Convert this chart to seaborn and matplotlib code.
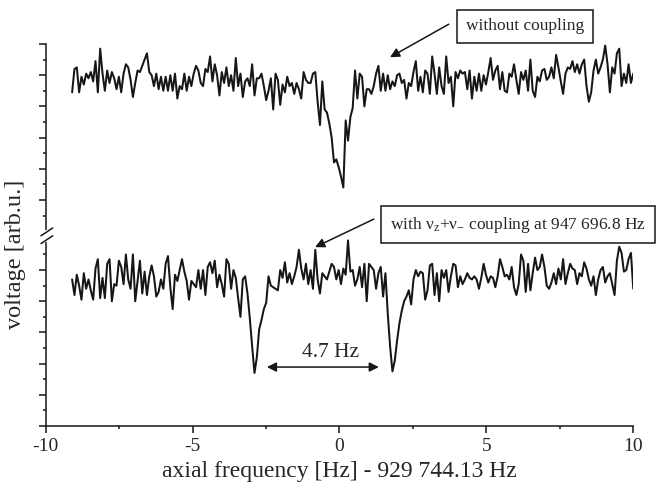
import numpy as np
import pandas as pd
import seaborn as sns
import matplotlib.pyplot as plt

# detector signal, same frequency sweep for both traces
f_start, f_stop = -9.1, 10.0

volt_uncoupled = [
    21.4, 22.9, 23.0, 21.4, 22.4, 21.9, 22.6, 22.3, 22.7, 22.1,
    23.4, 21.4, 24.2, 22.6, 21.5, 22.8, 22.0, 22.7, 22.3, 21.6,
    22.4, 21.4, 22.6, 23.2, 23.0, 22.2, 21.1, 22.0, 22.8, 22.7,
    23.1, 23.5, 23.9, 22.7, 22.5, 21.8, 22.6, 21.6, 22.4, 21.5,
    22.4, 21.5, 22.5, 21.5, 22.6, 21.0, 21.8, 21.6, 22.6, 21.5,
    22.4, 21.8, 22.6, 23.1, 22.8, 22.0, 21.8, 22.9, 22.7, 23.7,
    22.1, 23.2, 22.5, 21.2, 22.7, 22.0, 23.0, 21.8, 22.5, 21.5,
    23.6, 21.8, 22.6, 21.1, 22.1, 22.3, 21.8, 23.2, 21.2, 22.3,
    22.3, 22.6, 21.8, 20.9, 21.5, 22.3, 20.3, 22.6, 22.2, 20.6,
    21.9, 21.4, 22.4, 21.8, 22.0, 21.3, 22.0, 21.6, 21.0, 22.7,
    22.2, 22.0, 22.0, 22.6, 22.7, 20.8, 19.3, 22.1, 20.3, 20.1,
    19.4, 18.5, 16.9, 17.1, 16.6, 16.0, 15.3, 19.6, 18.3, 19.8,
    20.4, 22.8, 21.0, 22.6, 22.4, 20.5, 21.6, 21.6, 21.3, 21.8,
    22.6, 23.1, 21.5, 22.6, 21.5, 22.5, 21.6, 22.1, 21.8, 22.5,
    22.6, 22.0, 22.2, 21.0, 22.0, 21.8, 22.7, 23.4, 21.5, 22.4,
    21.4, 22.8, 22.6, 21.3, 23.7, 22.6, 21.3, 23.0, 21.8, 21.3,
    23.7, 22.0, 22.4, 20.5, 22.7, 22.3, 22.8, 22.6, 22.7, 21.6,
    22.8, 21.0, 22.4, 21.5, 22.6, 21.5, 22.5, 21.9, 22.7, 23.6,
    22.2, 22.8, 23.1, 21.6, 22.7, 21.5, 21.4, 22.6, 22.4, 23.2,
    22.2, 21.3, 22.7, 22.2, 22.8, 21.5, 23.5, 21.5, 21.1, 22.4,
    22.1, 22.8, 22.9, 22.2, 22.4, 23.0, 22.3, 23.8, 23.0, 22.1,
    21.3, 22.6, 23.0, 22.9, 23.4, 22.7, 23.2, 22.6, 23.2, 23.5,
    21.8, 20.8, 21.4, 22.8, 23.5, 22.6, 23.0, 23.5, 24.4, 23.2,
    21.4, 23.0, 22.6, 23.9, 24.2, 21.8, 22.6, 22.0, 23.2, 22.0,
    22.6,
]

volt_coupled = [
    9.4, 8.4, 9.7, 9.0, 8.1, 9.8, 8.8, 9.4, 8.7, 8.1,
    10.1, 10.7, 8.2, 9.5, 8.2, 10.4, 10.7, 8.0, 9.1, 9.0,
    10.6, 10.2, 9.1, 11.0, 9.4, 8.8, 11.0, 8.0, 9.3, 10.6,
    8.5, 9.9, 8.4, 9.6, 10.3, 9.6, 8.3, 8.6, 9.4, 8.8,
    10.4, 10.9, 8.9, 7.5, 9.7, 9.3, 10.0, 10.7, 9.9, 9.3,
    8.1, 9.3, 9.1, 8.9, 10.0, 8.8, 10.0, 8.4, 10.2, 10.5,
    9.8, 10.6, 8.9, 9.7, 9.1, 8.3, 10.7, 10.4, 8.8, 10.0,
    9.5, 8.2, 7.0, 9.4, 9.6, 8.5, 6.9, 5.1, 3.4, 4.4,
    6.2, 6.8, 7.5, 7.9, 9.6, 9.0, 8.9, 8.8, 8.7, 10.0,
    9.5, 10.5, 9.2, 9.8, 9.1, 9.6, 10.2, 11.3, 10.1, 9.4,
    10.4, 9.1, 10.0, 8.8, 11.3, 9.4, 8.5, 9.8, 9.6, 9.4,
    9.9, 10.4, 10.2, 9.4, 10.0, 9.1, 10.1, 9.7, 11.9, 9.9,
    10.0, 9.0, 9.4, 10.2, 8.9, 10.4, 8.0, 10.4, 10.2, 10.0,
    8.8, 9.8, 10.2, 8.3, 9.8, 7.2, 5.1, 3.5, 4.2, 5.5,
    6.6, 7.4, 8.0, 8.3, 8.7, 7.8, 9.4, 10.0, 9.6, 9.9,
    9.8, 8.1, 8.7, 10.3, 10.4, 8.4, 9.8, 8.0, 10.0, 9.5,
    10.0, 8.6, 9.6, 10.4, 10.3, 8.9, 9.6, 9.1, 9.4, 9.8,
    9.5, 9.4, 9.6, 9.4, 8.8, 9.5, 10.4, 9.7, 9.2, 9.6,
    9.5, 8.9, 9.6, 10.7, 10.2, 9.6, 9.7, 9.4, 10.2, 8.9,
    8.4, 9.1, 11.0, 10.6, 8.6, 10.4, 8.7, 9.8, 10.8, 10.0,
    10.2, 11.0, 10.2, 9.0, 8.8, 9.2, 9.8, 9.1, 10.1, 9.4,
    10.7, 9.1, 9.8, 10.4, 10.1, 10.0, 9.1, 9.8, 9.6, 10.5,
    10.1, 9.4, 9.0, 9.6, 8.4, 9.4, 10.0, 10.2, 9.2, 9.6,
    9.8, 9.1, 8.4, 10.6, 11.5, 11.1, 9.9, 10.0, 10.7, 11.1,
    8.8,
]

labels = ["without coupling", "with coupling"]

freq = np.linspace(f_start, f_stop, len(volt_uncoupled))
df = pd.concat([
    pd.DataFrame({"freq": freq, "volt": volt_uncoupled, "trace": labels[0]}),
    pd.DataFrame({"freq": freq, "volt": volt_coupled, "trace": labels[1]}),
])

sns.set_theme(style="ticks")
plt.rcParams['font.family'] = ['Liberation Serif', 'DejaVu Serif']
plt.rcParams['mathtext.fontset'] = 'custom'
plt.rcParams['mathtext.rm'] = 'Liberation Serif'
plt.rcParams['mathtext.it'] = 'Liberation Serif:italic'
plt.rcParams['axes.unicode_minus'] = False

fig = plt.figure(figsize=(6.62, 4.91), dpi=100)
ax = fig.add_axes([0.069, 0.1324, 0.8876, 0.778])

sns.lineplot(data=df, x="freq", y="volt", units="trace", estimator=None,
             color="#161616", lw=1.45, ax=ax, legend=False)

sns.despine(ax=ax)
ax.set_xlim(-10, 10)
ax.set_ylim(0, 24.5)
for side in ['left', 'bottom']:
    ax.spines[side].set_linewidth(1.1)
    ax.spines[side].set_color('#161616')

ax.set_xticks([-10, -5, 0, 5, 10])
ax.set_xticklabels(["-10", "-5", "0", "5", "10"])
ax.set_xticks([-7.5, -2.5, 2.5, 7.5], minor=True)
# broken y axis: lower part in whole units, upper part shifted by half a unit
ax.set_yticks([0, 2, 4, 6, 8, 10, 14.5, 16.5, 18.5, 20.5, 22.5, 24.5])
ax.set_yticks([1, 3, 5, 7, 9, 11, 13.5, 15.5, 17.5, 19.5, 21.5, 23.5], minor=True)
ax.set_yticklabels([])
ax.tick_params(axis='both', which='major', length=5, width=1.1, color='#161616',
               labelsize=14, pad=4, direction='out')
ax.tick_params(axis='both', which='minor', length=2.5, width=1.1, color='#161616',
               direction='out')

# break marks on the y axis
ax.plot([0, 0], [11.95, 12.45], color='white', lw=3, transform=ax.get_yaxis_transform(),
        clip_on=False, zorder=5)
for yb in [11.95, 12.45]:
    ax.plot([-0.008, 0.012], [yb - 0.25, yb + 0.25], color='#161616', lw=1.1,
            transform=ax.get_yaxis_transform(), clip_on=False, zorder=6)

ax.set_xlabel("axial frequency [Hz] - 929 744.13 Hz", fontsize=17, labelpad=4)
ax.set_ylabel("voltage [arb.u.]", fontsize=17.5)
ax.yaxis.set_label_coords(-0.034, 0.45)

box = dict(boxstyle="square,pad=0.5", fc="white", ec="#161616", lw=1.1)
arrow = dict(arrowstyle="-|>", color="#161616", lw=1.1, mutation_scale=14,
             shrinkA=0, shrinkB=0)

ax.annotate("", xy=(1.72, 23.65), xytext=(3.72, 25.77), arrowprops=arrow,
            annotation_clip=False)
ax.text(6.31, 25.64, "without coupling", fontsize=12.5, ha="center", va="center",
        bbox=box, clip_on=False)

ax.annotate("", xy=(-0.83, 11.47), xytext=(1.17, 13.27), arrowprops=arrow,
            annotation_clip=False)
ax.text(6.07, 12.92, r"with ν$_\mathrm{z}$+ν$_\mathrm{-}$ coupling at 947 696.8 Hz",
        fontsize=12.5, ha="center", va="center", bbox=box, clip_on=False)

ax.annotate("", xy=(-2.47, 3.78), xytext=(1.34, 3.78),
            arrowprops=dict(arrowstyle="<|-|>", color="#161616", lw=1.1,
                            mutation_scale=14, shrinkA=0, shrinkB=0))
ax.text(-0.32, 4.74, "4.7 Hz", fontsize=15.5, ha="center", va="center")

fig.savefig("out.png", dpi=100)
